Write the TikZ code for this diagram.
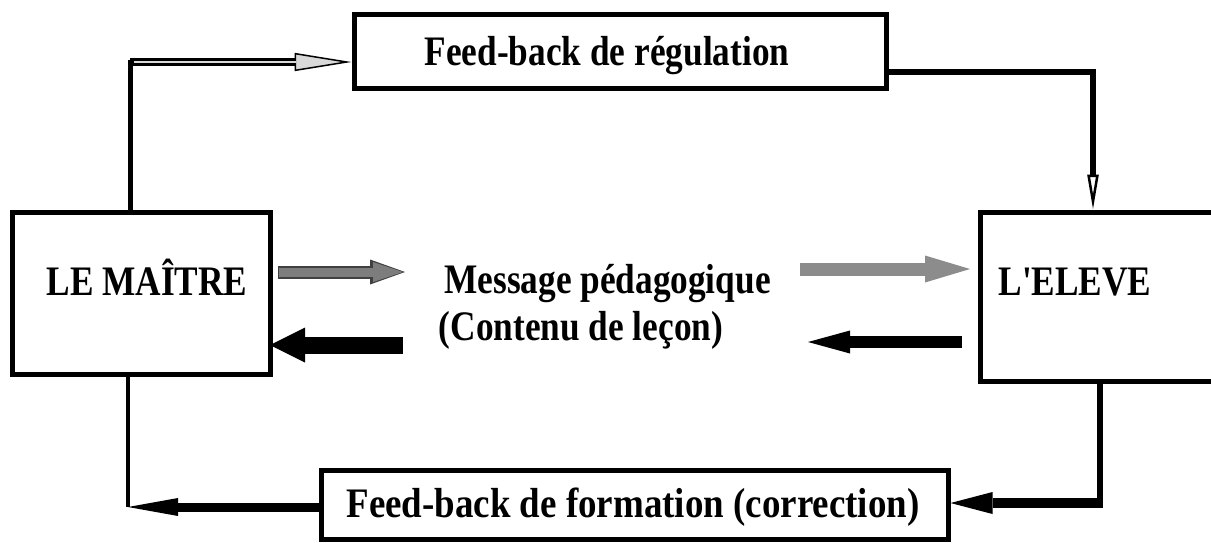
\documentclass[tikz,border=0pt]{standalone}
\usepackage{fontspec}
\setmainfont{Liberation Serif}[Ligatures=TeXOff]
\usepackage{graphicx}
\usetikzlibrary{arrows.meta,calc}
\newcommand{\txtsq}[1]{\scalebox{0.84}[1]{#1}}
\definecolor{gone}{RGB}{125,125,125}
\definecolor{gtwo}{RGB}{140,140,140}
\begin{document}
\begin{tikzpicture}[x=1pt,y=-1pt,
  box/.style={draw=black, line width=5pt, inner sep=0pt},
  lbl/.style={anchor=base, inner sep=0pt, font=\fontsize{42}{48}\selectfont\bfseries},
]
\useasboundingbox (0,0) rectangle (1211,542);
\fill[white] (0,0) rectangle (1211,542);
\clip (0,0) rectangle (1211,542);

% boxes
\node[box, minimum width=532pt, minimum height=74pt] (reg) at (620,51) {};
\node[box, minimum width=258pt, minimum height=162pt] (maitre) at (141,293) {};
\node[box, minimum width=245pt, minimum height=169pt] (eleve) at (1102.5,296.5) {};
\node[box, minimum width=627pt, minimum height=69pt] (form) at (634.5,504.5) {};

% texts
\node[lbl] (regT) at (607,65) {\txtsq{Feed-back de régulation}};
\node[lbl] (maitreT) at (147,295) {\txtsq{LE MAÎTRE}};
\node[lbl] (eleveT) at (1075,295) {\txtsq{L'ELEVE}};
\node[lbl] (msgT) at (607.5,293) {\txtsq{Message pédagogique}};
\node[lbl] (contT) at (581,340) {\txtsq{(Contenu de leçon)}};
\node[lbl] (formT) at (633,517) {\scalebox{0.88}[1]{Feed-back de formation (correction)}};

% maitre -> regulation
\coordinate (k1) at (130,62);
\draw[line width=5pt, line cap=rect] (maitre.north -| k1) -- (k1);
\draw[line width=8pt, -{Triangle[length=57pt,width=18pt,line width=1.5pt,fill=gray!30]}] (k1) -- (reg.west |- k1);
\draw[line width=2pt, gray!30] ($(k1)+(4,0)$) -- ($(reg.west |- k1)+(-56,0)$);

% regulation -> eleve
\coordinate (k2) at (1093,72);
\draw[line width=6pt, line join=miter, -{Triangle[open,length=35pt,width=11pt,line width=2.5pt]}] (reg.east |- k2) -- (k2) -- (k2 |- eleve.north);

% formation -> maitre
\coordinate (k3) at (128,507);
\draw[line width=4pt] (maitre.south -| k3) -- (k3);
\draw[line width=9pt, -{Triangle[length=50pt,width=18pt,line width=0pt]}] (form.west |- k3) -- (k3);

% eleve -> formation
\coordinate (k4) at (1100,503);
\draw[line width=6pt, line cap=rect] (eleve.south -| k4) -- (k4);
\draw[line width=10pt, -{Triangle[length=42pt,width=22pt,line width=0pt]}] ($(k4)+(3,0)$) -- (form.east |- k4);

% middle arrows
\coordinate (a1s) at (278,272);
\coordinate (a1e) at (405,272);
\draw[line width=13pt, black!75, -{Triangle[length=35pt,width=25pt,line width=0pt]}] (a1s) -- (a1e);
\draw[line width=9pt, gone, -{Triangle[length=30pt,width=20pt,line width=0pt]}] ($(a1s)+(1,0)$) -- ($(a1e)+(-2,0)$);
\coordinate (b1s) at (403,345);
\coordinate (b1e) at (270,345);
\draw[line width=17pt, black, -{Triangle[length=35pt,width=35pt,line width=0pt]}] (b1s) -- (b1e);
\coordinate (a2s) at (800,269);
\coordinate (a2e) at (970,269);
\draw[line width=13pt, gtwo, -{Triangle[length=45pt,width=27pt,line width=0pt]}] (a2s) -- (a2e);
\coordinate (b2s) at (962,342);
\coordinate (b2e) at (808,342);
\draw[line width=12pt, black, -{Triangle[length=42pt,width=23pt,line width=0pt]}] (b2s) -- (b2e);
\end{tikzpicture}
\end{document}
